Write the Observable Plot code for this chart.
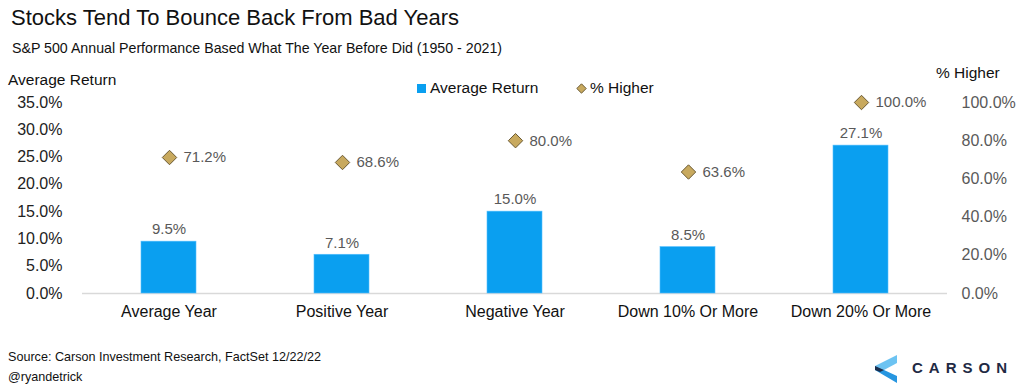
<!DOCTYPE html>
<html><head><meta charset="utf-8">
<script src="https://cdn.jsdelivr.net/npm/d3@7"></script>
<script src="https://cdn.jsdelivr.net/npm/@observablehq/plot@0.6"></script>
<style>
html,body{margin:0;padding:0;background:#fff;}
#wrap{position:relative;width:1023px;height:392px;overflow:hidden;font-family:"Liberation Sans",Arial,sans-serif;background:#fff;}
.t{position:absolute;white-space:nowrap;color:#111;}
</style></head>
<body>
<div id="wrap">
  <div class="t" style="left:11px;top:5px;font-size:22px;">Stocks Tend To Bounce Back From Bad Years</div>
  <div class="t" style="left:12px;top:40px;font-size:14.2px;">S&amp;P 500 Annual Performance Based What The Year Before Did (1950 - 2021)</div>
  <div class="t" style="left:8px;top:71px;font-size:15.5px;">Average Return</div>
  <div class="t" style="left:936px;top:64px;font-size:15.5px;">% Higher</div>
  <div class="t" style="left:417px;top:79px;font-size:15.5px;"><span style="display:inline-block;width:9px;height:9px;background:#0a9ff0;margin-right:4px;"></span>Average Return</div>
  <div class="t" style="left:576px;top:79px;font-size:15.5px;"><svg width="11" height="11" style="vertical-align:-1px;margin-right:3px"><path d="M5.5 0.8 L10.2 5.5 L5.5 10.2 L0.8 5.5Z" fill="#c8a95e" stroke="#6b5b35" stroke-width="1"/></svg>% Higher</div>
  <div class="t" style="left:8px;top:350px;font-size:12.6px;">Source: Carson Investment Research, FactSet 12/22/22</div>
  <div class="t" style="left:8px;top:370px;font-size:12.6px;">@ryandetrick</div>
  <div class="t" style="left:875px;top:355px;">
    <svg width="24" height="28" viewBox="0 0 24 28">
      <path d="M22 0 L22 8 L9 15 L0 11 Z" fill="#6cc3f2"/>
      <path d="M0 11 L9 15 L22 21 L22 28 L0 15 Z" fill="#2796e0"/>
      <path d="M0 11 L9 15 L0 15 Z" fill="#1b2f4e"/>
      <path d="M0 15 L9 15 L5 17 Z" fill="#1b2f4e"/>
    </svg>
  </div>
  <div class="t" style="left:912px;top:359px;font-size:15px;letter-spacing:6px;color:#1f2a44;font-weight:bold;">CARSON</div>
</div>
<script>
const categories = ["Average Year", "Positive Year", "Negative Year", "Down 10% Or More", "Down 20% Or More"];
const avgReturn = [9.5, 7.1, 15.0, 8.5, 27.1];
const pctHigher = [71.2, 68.6, 80.0, 63.6, 100.0];
const leftTicks = [0, 5, 10, 15, 20, 25, 30, 35];
const rightTicks = [0, 20, 40, 60, 80, 100];

const rows = categories.map((c, i) => ({cat: c, ret: avgReturn[i], hi: pctHigher[i]}));
const fmt = v => v.toFixed(1) + "%";

const common = {
  width: 1023, height: 392,
  marginTop: 102, marginBottom: 99, marginLeft: 82, marginRight: 76,
  style: {fontFamily: "'Liberation Sans', Arial, sans-serif", fontSize: "16px", background: "transparent", overflow: "visible", position: "absolute", left: "0px", top: "0px"},
  x: {domain: categories, paddingInner: 0.68, paddingOuter: 0.34, align: 0.5, axis: null, label: null}
};

const p1 = Plot.plot({
  ...common,
  y: {domain: [0, 35], axis: null, label: null},
  marks: [
    Plot.ruleY([0], {stroke: "#d9d9d9", strokeWidth: 1.5}),
    Plot.barY(rows, {x: "cat", y: "ret", fill: "#0a9ff0", stroke: "#55bfff", strokeWidth: 0.6}),
    Plot.text(rows, {x: "cat", y: "ret", text: d => fmt(d.ret), dy: -12, fill: "#595959", fontSize: 15}),
    Plot.axisY(leftTicks, {anchor: "left", tickSize: 0, tickPadding: 20, tickFormat: fmt, fill: "#222", fontSize: 16, label: null}),
    Plot.axisX(categories, {anchor: "bottom", tickSize: 0, tickPadding: 12, fill: "#111", fontSize: 16, label: null})
  ]
});

const p2 = Plot.plot({
  ...common,
  y: {domain: [0, 100], axis: null, label: null},
  marks: [
    Plot.dot(rows, {x: "cat", y: "hi", symbol: "diamond2", r: 6.5, fill: "#c8a95e", stroke: "#6b5b35", strokeWidth: 1}),
    Plot.text(rows, {x: "cat", y: "hi", text: d => fmt(d.hi), dx: 14, textAnchor: "start", fill: "#595959", fontSize: 15}),
    Plot.axisY(rightTicks, {anchor: "right", tickSize: 0, tickPadding: 14, tickFormat: fmt, fill: "#595959", fontSize: 16, label: null})
  ]
});

const wrap = document.getElementById("wrap");
wrap.insertBefore(p1, wrap.firstChild);
wrap.insertBefore(p2, p1.nextSibling);
</script>
</body></html>
